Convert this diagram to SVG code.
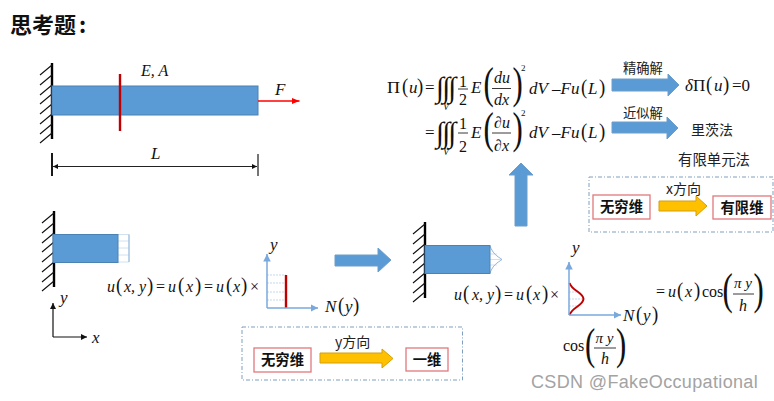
<svg xmlns="http://www.w3.org/2000/svg" xmlns:xlink="http://www.w3.org/1999/xlink" width="774" height="401" viewBox="0 0 774 401">
<style>
text{font-family:"Liberation Serif",serif;fill:#111}
.i{font-style:italic}
.e{font-size:15px}
.f{font-size:16px}
.g{font-size:17px}
.pa{font-size:22px}
.pb{font-size:44px}
.int{font-size:29px;letter-spacing:-1.800px}
.cjk{font-family:"Noto Sans CJK SC","Liberation Sans",sans-serif;font-size:14px;fill:#222}
.lb{font-family:"Noto Sans CJK SC","Liberation Sans",sans-serif;font-size:14.300px;font-weight:700;fill:#111;text-anchor:middle}
.beam{fill:#5b9bd5;stroke:#4a82b4;stroke-width:1}
.ba{fill:#5b9bd5;stroke:#6d9ecb;stroke-width:1}
.ya{fill:#ffc000;stroke:#d49f0c;stroke-width:1}
.box{fill:#fff;stroke:#e0797b;stroke-width:1.300}
.dash{fill:none;stroke:#7f9fc0;stroke-width:1;stroke-dasharray:4 2 1 2}
.ax{fill:none;stroke:#79a9dc;stroke-width:1.500}
.dot{stroke:#b5cfe8;stroke-width:.8;stroke-dasharray:2 1;fill:none}
.k{stroke:#222;fill:none;stroke-width:.9}
.r{stroke:#c00000;fill:none;stroke-width:2.400}
</style>
<defs>
<g id="wallshape">
<path d="M0 0V76" stroke="#000" stroke-width="2.400" fill="none"/>
<path d="M0 2l-12 10M0 12l-12 10M0 22l-12 10M0 31l-12 10M0 41l-12 10M0 51l-12 10M0 61l-12 10M0 70l-12 10" stroke="#111" stroke-width="1.100" fill="none"/>
</g>
<marker id="ab" markerWidth="6" markerHeight="6" refX="5" refY="3" orient="auto"><path d="M0 0.500L5 3L0 5.500z" fill="#79a9dc"/></marker>
<marker id="ak" markerWidth="6" markerHeight="6" refX="5" refY="3" orient="auto-start-reverse"><path d="M0 0.500L5 3L0 5.500z" fill="#111"/></marker>
<marker id="ar" markerWidth="6" markerHeight="6" refX="5" refY="3" orient="auto"><path d="M0 1L5 3L0 5z" fill="#f00"/></marker>
</defs>

<text id="title" x="10" y="33" style="font-family:'Noto Sans CJK SC',sans-serif;font-size:22px;font-weight:700">思考题<tspan dx="3">:</tspan></text>

<g id="bar-top">
<use xlink:href="#wallshape" x="52" y="63"/>
<rect class="beam" x="52" y="86" width="206" height="29"/>
<path class="r" d="M120 74V131"/>
<text class="i f" x="141" y="76">E, A</text>
<text class="i g" x="275" y="95">F</text>
<text class="i g" x="151" y="159">L</text>
</g>

<g id="bar-uniform">
<use xlink:href="#wallshape" x="54" y="211"/>
<path d="M118 234.500H129V262H118M118 241H129M118 248H129M118 255H129" fill="none" stroke="#c5d9ec" stroke-width=".8"/>
<path d="M129 234.500V262" stroke="#8fb4da" stroke-width="1"/>
<rect class="beam" x="53" y="234.500" width="65" height="28"/>
</g>

<g id="bar-cos">
<use xlink:href="#wallshape" x="425" y="222"/>
<path d="M490 254H497M490 259.500H502M490 265H497" fill="none" stroke="#c5d9ec" stroke-width=".8"/>
<path d="M490 246C493 254 497 256 502 259.500C497 263 493 265 490 273" fill="none" stroke="#8fb4da" stroke-width="1"/>
<rect class="beam" x="425" y="245.500" width="65" height="28"/>
</g>

<g id="xy-axes">
<text class="i g" x="60" y="303">y</text>
<text class="i g" x="92" y="343">x</text>
</g>

<g id="formula-energy">
<text class="g" x="387" y="93" textLength="13" lengthAdjust="spacingAndGlyphs">Π</text>
<text class="pa" transform="translate(402 93) scale(.85 1)">(</text>
<text class="i g" x="409" y="93">u</text>
<text class="pa" transform="translate(417 93) scale(.85 1)">)</text>
<text class="g" x="425" y="93">=</text>
<text class="int" x="436" y="97">∫∫∫</text>
<text class="i" x="443" y="110" font-size="10">V</text>
<text class="f" x="463" y="87" text-anchor="middle">1</text>
<path class="k" d="M458 89H468"/>
<text class="f" x="463" y="105" text-anchor="middle">2</text>
<text class="i g" x="471" y="93">E</text>
<text class="pb" transform="translate(483.500 98) scale(.7 1)">(</text>
<text class="i f" x="494" y="83">du</text>
<path class="k" d="M492 88.500H511"/>
<text class="i f" x="494" y="105">dx</text>
<text class="pb" transform="translate(512.500 98) scale(.7 1)">)</text>
<text x="521" y="71" font-size="9">2</text>
<text class="i g" x="529" y="94">dV</text>
<text class="i g" x="552" y="94">–Fu</text>
<text class="pa" transform="translate(581 94) scale(.85 1)">(</text>
<text class="i g" x="588" y="94">L</text>
<text class="pa" transform="translate(599 94) scale(.85 1)">)</text>

<text class="g" x="425" y="138">=</text>
<text class="int" x="436" y="142">∫∫∫</text>
<text class="i" x="443" y="155" font-size="10">V</text>
<text class="f" x="463" y="129" text-anchor="middle">1</text>
<path class="k" d="M458 133H468"/>
<text class="f" x="463" y="152" text-anchor="middle">2</text>
<text class="i g" x="471" y="138">E</text>
<text class="pb" transform="translate(483.500 143) scale(.7 1)">(</text>
<text class="i f" x="494" y="128">∂u</text>
<path class="k" d="M492 133H511"/>
<text class="i f" x="494" y="151">∂x</text>
<text class="pb" transform="translate(512.500 143) scale(.7 1)">)</text>
<text x="521" y="116" font-size="9">2</text>
<text class="i g" x="529" y="138">dV</text>
<text class="i g" x="552" y="138">–Fu</text>
<text class="pa" transform="translate(581 138) scale(.85 1)">(</text>
<text class="i g" x="588" y="138">L</text>
<text class="pa" transform="translate(599 138) scale(.85 1)">)</text>
</g>

<g id="result-exact">
<text class="g" x="685" y="91"><tspan class="i">δ</tspan>Π</text>
<text class="pa" transform="translate(706 91) scale(.85 1)">(</text>
<text class="i g" x="714" y="91">u</text>
<text class="pa" transform="translate(723 91) scale(.85 1)">)</text>
<text class="g" x="732" y="91">=0</text>
</g>
<text id="label-exact" class="cjk" x="623" y="73" style="font-size:13.300px">精确解</text>
<text id="label-approx" class="cjk" x="623" y="118" style="font-size:13.300px">近似解</text>
<text id="result-ritz" class="cjk" x="691" y="135">里茨法</text>
<text id="result-fem" class="cjk" x="678" y="165" style="font-size:14.400px">有限单元法</text>

<g id="box-x">
<rect class="dash" x="589" y="177" width="184" height="55"/>
<rect id="x-inf" class="box" x="593" y="195" width="57" height="24"/>
<text class="lb" x="621.500" y="212">无穷维</text>
<rect id="x-fin" class="box" x="713" y="196" width="58" height="23"/>
<text class="lb" x="742" y="213">有限维</text>
<text class="cjk" x="666" y="194">x方向</text>
</g>

<g id="formula-uniform">
<text class="i f" x="107" y="292">u</text>
<text class="pa" transform="translate(116 292) scale(.85 1)">(</text>
<text class="i f" x="124" y="292">x, y</text>
<text class="pa" transform="translate(147 292) scale(.85 1)">)</text>
<text class="f" x="156" y="292">=</text>
<text class="i f" x="168" y="292">u</text>
<text class="pa" transform="translate(178 292) scale(.85 1)">(</text>
<text class="i f" x="186" y="292">x</text>
<text class="pa" transform="translate(195 292) scale(.85 1)">)</text>
<text class="f" x="204" y="292">=</text>
<text class="i f" x="216" y="292">u</text>
<text class="pa" transform="translate(226 292) scale(.85 1)">(</text>
<text class="i f" x="233" y="292">x</text>
<text class="pa" transform="translate(241 292) scale(.85 1)">)</text>
<text class="f" x="250" y="292">×</text>
</g>

<g id="plot-uniform">
<path class="dot" d="M267 275H286M267 283H286M267 292H286M267 300H286"/>
<path class="r" d="M286 275V308"/>
<text class="i g" x="270" y="250">y</text>
<text class="i g" x="325" y="312">N</text>
<text class="pa" transform="translate(338 312) scale(.85 1)">(</text>
<text class="i g" x="345" y="312">y</text>
<text class="pa" transform="translate(353 312) scale(.85 1)">)</text>
</g>

<g id="box-y">
<rect class="dash" x="242" y="327" width="220.500" height="53"/>
<rect id="y-inf" class="box" x="254" y="348" width="57" height="24"/>
<text class="lb" x="282.500" y="365">无穷维</text>
<rect id="y-one" class="box" x="406" y="348" width="42" height="23"/>
<text class="lb" x="427" y="365">一维</text>
<text class="cjk" x="335" y="347">y方向</text>
</g>

<g id="formula-cos">
<text class="i f" x="454" y="300">u</text>
<text class="pa" transform="translate(463 300) scale(.85 1)">(</text>
<text class="i f" x="472" y="300">x, y</text>
<text class="pa" transform="translate(495 300) scale(.85 1)">)</text>
<text class="f" x="504" y="300">=</text>
<text class="i f" x="516" y="300">u</text>
<text class="pa" transform="translate(526 300) scale(.85 1)">(</text>
<text class="i f" x="533" y="300">x</text>
<text class="pa" transform="translate(542 300) scale(.85 1)">)</text>
<text class="f" x="550" y="300">×</text>
</g>

<g id="plot-cos">
<path class="dot" d="M569 292H578M569 299H583M569 306H578"/>
<path class="r" d="M569.500 283C572 291 583 292 583.500 299C583 306 572 307 569.500 315" style="stroke-width:2"/>
<text class="i g" x="572" y="253">y</text>
<text class="i g" x="623" y="321">N</text>
<text class="pa" transform="translate(636 321) scale(.85 1)">(</text>
<text class="i g" x="643" y="321">y</text>
<text class="pa" transform="translate(652 321) scale(.85 1)">)</text>
</g>

<g id="formula-result">
<text class="f" x="656" y="297">=</text>
<text class="i f" x="668" y="297">u</text>
<text class="pa" transform="translate(677 297) scale(.85 1)">(</text>
<text class="i f" x="685" y="297">x</text>
<text class="pa" transform="translate(694 297) scale(.85 1)">)</text>
<text class="f" x="702" y="297">cos</text>
<text class="pb" transform="translate(722.500 304) scale(.7 1)">(</text>
<text class="i e" x="734" y="288">π y</text>
<path class="k" d="M733 294H754"/>
<text class="i f" x="739" y="311">h</text>
<text class="pb" transform="translate(753.500 304) scale(.7 1)">)</text>
</g>

<g id="formula-cos-label">
<text class="f" x="563" y="351">cos</text>
<text class="pb" transform="translate(585 359) scale(.7 1)">(</text>
<text class="i e" x="595.500" y="343">π y</text>
<path class="k" d="M594 348H616"/>
<text class="i f" x="601" y="364">h</text>
<text class="pb" transform="translate(616 359) scale(.7 1)">)</text>
</g>

<g id="connectors">
<path d="M258 101H299.500" stroke="#f00" stroke-width="1.500" fill="none" marker-end="url(#ar)"/>
<path d="M52 153V176" stroke="#000" stroke-width="1.800"/>
<path d="M258 154V176" stroke="#666" stroke-width="1.800"/>
<path d="M53 166.500H257" stroke="#222" stroke-width="1" fill="none" marker-start="url(#ak)" marker-end="url(#ak)"/>
<path d="M53 337V303" stroke="#111" stroke-width="1.200" fill="none" marker-end="url(#ak)"/>
<path d="M53 337H87" stroke="#111" stroke-width="1.200" fill="none" marker-end="url(#ak)"/>
<path class="ax" d="M267 308V254" marker-end="url(#ab)"/>
<path class="ax" d="M267 308H318" marker-end="url(#ab)"/>
<path class="ax" d="M569 315V262" marker-end="url(#ab)"/>
<path class="ax" d="M569 315H621" marker-end="url(#ab)"/>
<path class="ba" d="M612 79H668V74L679 85L668 96V91H612z"/>
<path class="ba" d="M612 122H667V117L678 128L667 139V133H612z"/>
<path class="ba" d="M515 226V175H509L521 163L533 175H527V226z"/>
<path class="ba" d="M335 255H378V248L391 260L378 272V266H335z"/>
<path class="ya" d="M659 201H696V196L707 206L696 216V211H659z"/>
<path class="ya" d="M320 353H382V349L393 358.500L382 368V363H320z"/>
</g>

<text id="watermark" x="531" y="388" style="font-family:'Liberation Sans',sans-serif;font-size:18px;fill:#a3a3a3;letter-spacing:.35px">CSDN @FakeOccupational</text>
</svg>
